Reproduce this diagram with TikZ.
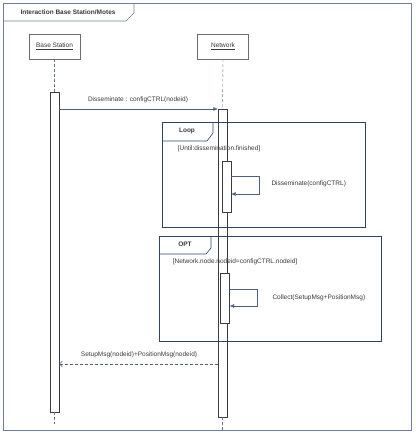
\documentclass[tikz,border=0pt]{standalone}
\usepackage{fontspec}
\setmainfont{Liberation Sans}
\usetikzlibrary{arrows.meta}
\definecolor{framecol}{HTML}{2E4462}
\definecolor{outercol}{HTML}{6F7F98}
\definecolor{linecol}{HTML}{3C3C3C}
\definecolor{textcol}{HTML}{383838}

\begin{document}
\begin{tikzpicture}[x=1pt,y=-1pt,
    every node/.style={font=\fontsize{6.5}{7.5}\selectfont,text=textcol},
    head/.style={draw=linecol!75,rectangle,minimum width=51pt,minimum height=25pt,inner sep=0pt},
    actbar/.style={draw=linecol,fill=white,rectangle,minimum width=9pt,inner sep=0pt},
    life/.style={draw=framecol!75,dash pattern=on 3pt off 2pt},
    msg/.style={draw=framecol!85,-{Latex[length=4.5pt,width=4pt]}},
    reply/.style={draw=framecol!85,dash pattern=on 3pt off 2pt,-{Straight Barb[length=3pt,width=6pt]}},
    frag/.style={draw=framecol,line width=0.6pt},
    fraglabel/.style={font=\fontsize{6.5}{7.5}\selectfont\bfseries}
]
    \useasboundingbox (0,0) rectangle (415,433);

    % outer frame
    \draw[draw=outercol,line width=0.9pt] (3,3) rectangle (411,430);
    \draw[draw=outercol,line width=0.6pt] (3,21) -- (126,21) -- (134,13) -- (134,3);
    \node[fraglabel] (title) at (68,12) {Interaction Base Station/Motes};

    % lifeline heads
    \node[head] (bs) at (54.5,46.5) {\underline{Base Station}};
    \node[head] (nw) at (223,46.5)  {\underline{Network}};

    \node[actbar,minimum height=320pt] (bsbar) at (54.5,252) {};
    \node[actbar,minimum height=308pt] (nwbar) at (222.5,263) {};

    \coordinate (bsend) at (54.5,424);
    \coordinate (nwend) at (222.5,431);
    \draw[life] (bs.south) -- (bsbar.north);
    \draw[life] (nw.south) -- (nwbar.north);
    \draw[life] (bsbar.south) -- (bsend);
    \draw[life] (nwbar.south) -- (nwend);

    % loop fragment
    \draw[frag] (162,122) rectangle (365,227);
    \draw[frag] (162,141) -- (207,141) -- (213,133) -- (213,122);
    \node[fraglabel] (looplbl) at (187,131) {Loop};
    \node (loopguard) at (219,149) {[Until:dissemination.finished]};

    % opt fragment
    \draw[frag] (159,236) rectangle (381,341);
    \draw[frag] (159,254) -- (206,254) -- (211,248) -- (211,236);
    \node[fraglabel] (optlbl) at (185,244) {OPT};
    \node (optguard) at (235,262) {[Network.node.nodeid=configCTRL.nodeid]};

    \node[actbar,minimum height=51pt] (lpbar) at (226.5,186.5) {};
    \node[actbar,minimum height=50pt] (opbar) at (225,298) {};

    % messages
    \draw[msg] (bsbar.east |- 0,109) -- (nwbar.west |- 0,109);
    \node (m1) at (138,100) {Disseminate : configCTRL(nodeid)};

    \coordinate (lpa) at (259,176);
    \coordinate (lpb) at (259,194);
    \draw[msg] (lpbar.east |- lpa) -- (lpa) -- (lpb) -- (lpbar.east |- lpb);
    \node[anchor=west] (m2) at (268,184) {Disseminate(configCTRL)};

    \coordinate (opa) at (257,289);
    \coordinate (opb) at (257,306);
    \draw[msg] (opbar.east |- opa) -- (opa) -- (opb) -- (opbar.east |- opb);
    \node[anchor=west] (m3) at (269,298) {Collect(SetupMsg+PositionMsg)};

    \draw[reply] (nwbar.west |- 0,364) -- (bsbar.east |- 0,364);
    \node (m4) at (139,355) {SetupMsg(nodeid)+PositionMsg(nodeid)};
\end{tikzpicture}
\end{document}
